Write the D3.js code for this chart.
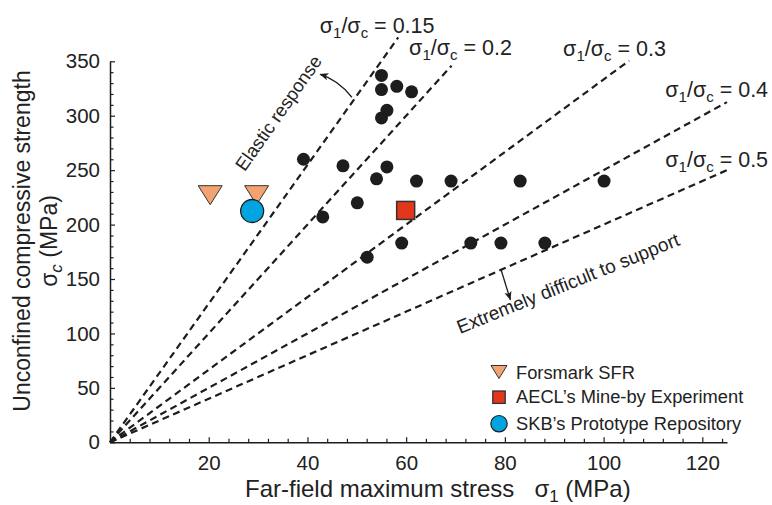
<!DOCTYPE html>
<html>
<head>
<meta charset="utf-8">
<script src="https://cdn.jsdelivr.net/npm/d3@7"></script>
<style>
body { margin: 0; background: #fff; }
svg text { font-family: "Liberation Sans", Arial, Helvetica, sans-serif; fill: #222; }
</style>
</head>
<body>
<svg id="chart" width="772" height="505"></svg>
<script>
// field data: sigma1 (MPa) vs sigma_c (MPa)
var sites = [
	[55.0, 337], [55.0, 324], [58.1, 327], [61.1, 322], [56.1, 305], [55.0, 298],
	[39.2, 260], [47.2, 254], [56.1, 253], [54.0, 242], [62.1, 240], [69.1, 240],
	[83.1, 240], [100.1, 240], [50.1, 220], [43.1, 207], [59.1, 183], [73.1, 183],
	[79.2, 183], [88.1, 183], [52.1, 170]
];
var forsmark = [[20.3, 227], [29.7, 227]];
var aecl = [[59.9, 213]];
var skb = [[28.8, 212.5]];

// sigma1/sigma_c lines (slope as drawn) and where each one stops (sigma1)
var ratioLabels = ["0.15", "0.2", "0.3", "0.4", "0.5"];
var ratios = [0.157, 0.2, 0.3, 0.4, 0.5];
var ratioEnds = [58.4, 69.2, 105.2, 125, 125];
var ratioLabelPos = [[42.5, 376], [60.6, 356], [91.8, 355], [112.5, 317], [112.5, 253]];

var xMajor = [20, 40, 60, 80, 100, 120];
var yMajor = [0, 50, 100, 150, 200, 250, 300, 350];
var legendLabels = ["Forsmark SFR", "AECL\u2019s Mine-by Experiment", "SKB\u2019s Prototype Repository"];

var svg = d3.select("#chart");
var x = d3.scaleLinear().domain([0, 125]).range([110, 727]);
var y = d3.scaleLinear().domain([0, 350]).range([442.3, 61.3]);
var ink = "#1d1d1d";

// axes, ticks point inward
svg.append("g").attr("transform", "translate(0," + y(0) + ")")
	.call(d3.axisBottom(x).tickValues(xMajor).tickSizeInner(-5).tickSizeOuter(0).tickPadding(13));
svg.append("g").attr("transform", "translate(0," + y(0) + ")")
	.call(d3.axisBottom(x).tickValues(d3.range(4, 125, 4).filter(function(d) { return d % 20 != 0; }))
		.tickSizeInner(-3.5).tickSizeOuter(0).tickFormat(""))
	.select(".domain").remove();
svg.append("g").attr("transform", "translate(" + x(0) + ",0)")
	.call(d3.axisLeft(y).tickValues(yMajor).tickSizeInner(-5).tickSizeOuter(0).tickPadding(10));
svg.append("g").attr("transform", "translate(" + x(0) + ",0)")
	.call(d3.axisLeft(y).tickValues(d3.range(10, 350, 10).filter(function(d) { return d % 50 != 0; }))
		.tickSizeInner(-3.5).tickSizeOuter(0).tickFormat(""))
	.select(".domain").remove();
svg.selectAll(".domain").attr("stroke", ink).attr("stroke-width", 1.5);
svg.selectAll(".tick line").attr("stroke", ink).attr("stroke-width", 1.2);
svg.selectAll(".tick text").style("font-size", "20.5px").attr("fill", "#222");

// ratio lines
svg.selectAll("line.ratio")
	.data(ratios)
	.enter().append("line")
	.attr("class", "ratio")
	.attr("x1", x(0))
	.attr("y1", y(0))
	.attr("x2", function(d, i) { return x(ratioEnds[i]); })
	.attr("y2", function(d, i) { return y(ratioEnds[i] / d); })
	.attr("stroke", ink)
	.attr("stroke-width", 2.2)
	.attr("stroke-dasharray", "7,4.5");

// ratio labels: sigma1/sigma_c = r
ratioLabels.forEach(function(lab, i) {
	var t = svg.append("text")
		.attr("x", x(ratioLabelPos[i][0]))
		.attr("y", y(ratioLabelPos[i][1]))
		.style("font-size", "21.5px");
	t.append("tspan").text("\u03c3");
	t.append("tspan").text("1").style("font-size", "15px").attr("dy", 5);
	t.append("tspan").text("/\u03c3").attr("dy", -5);
	t.append("tspan").text("c").style("font-size", "15px").attr("dy", 5);
	t.append("tspan").text(" = " + lab).attr("dy", -5);
});

// data points
svg.append("g").selectAll("circle")
	.data(sites)
	.enter().append("circle")
	.attr("cx", function(d) { return x(d[0]); })
	.attr("cy", function(d) { return y(d[1]); })
	.attr("r", 6.5)
	.attr("fill", ink);

function tri(w, h) {
	return "M" + (-w/2) + "," + (-h/2) + "L" + (w/2) + "," + (-h/2) + "L0," + (h/2) + "Z";
}
var triFill = "#f3a372", sqFill = "#e2361d", cirFill = "#00a5e0", edge = "#333";

svg.append("g").selectAll("path")
	.data(forsmark)
	.enter().append("path")
	.attr("d", tri(24, 19))
	.attr("transform", function(d) { return "translate(" + x(d[0]) + "," + y(d[1]) + ")"; })
	.attr("fill", triFill).attr("stroke", edge).attr("stroke-width", 1);

svg.append("g").selectAll("circle")
	.data(skb)
	.enter().append("circle")
	.attr("cx", function(d) { return x(d[0]); })
	.attr("cy", function(d) { return y(d[1]); })
	.attr("r", 11.5)
	.attr("fill", cirFill).attr("stroke", ink).attr("stroke-width", 1.3);

svg.append("g").selectAll("rect")
	.data(aecl)
	.enter().append("rect")
	.attr("x", function(d) { return x(d[0]) - 9; })
	.attr("y", function(d) { return y(d[1]) - 9; })
	.attr("width", 18).attr("height", 18)
	.attr("fill", sqFill).attr("stroke", edge).attr("stroke-width", 1.5);

// annotations
svg.append("defs").append("marker")
	.attr("id", "head").attr("viewBox", "0 0 10 10")
	.attr("refX", 9).attr("refY", 5)
	.attr("markerWidth", 9).attr("markerHeight", 9)
	.attr("markerUnits", "userSpaceOnUse")
	.attr("orient", "auto")
	.append("path").attr("d", "M0,1L10,5L0,9L2.5,5Z").attr("fill", ink);

svg.append("path")
	.attr("d", "M" + x(49.0) + "," + y(317) + "Q" + x(46.2) + "," + y(333) + " " + x(42.6) + "," + y(338))
	.attr("fill", "none").attr("stroke", ink).attr("stroke-width", 1.3)
	.attr("marker-end", "url(#head)");
svg.append("text")
	.attr("transform", "translate(" + x(27.3) + "," + y(248) + ") rotate(-55)")
	.style("font-size", "18.5px")
	.text("Elastic response");

svg.append("line")
	.attr("x1", x(79.2)).attr("y1", y(159))
	.attr("x2", x(81.1)).attr("y2", y(131))
	.attr("stroke", ink).attr("stroke-width", 1.3)
	.attr("marker-end", "url(#head)");
svg.append("text")
	.attr("transform", "translate(" + x(70.9) + "," + y(99.5) + ") rotate(-22)")
	.style("font-size", "19px")
	.text("Extremely difficult to support");

// legend
var legend = svg.append("g").attr("transform", "translate(499,0)");
legend.append("path").attr("d", tri(16, 13)).attr("transform", "translate(0,372)")
	.attr("fill", triFill).attr("stroke", edge).attr("stroke-width", 1);
legend.append("rect").attr("x", -6.2).attr("y", 391).attr("width", 12.4).attr("height", 12.4)
	.attr("fill", sqFill).attr("stroke", edge).attr("stroke-width", 1.3);
legend.append("circle").attr("cx", 0).attr("cy", 423.7).attr("r", 8.2)
	.attr("fill", cirFill).attr("stroke", ink).attr("stroke-width", 1.2);
legend.selectAll("text")
	.data(legendLabels)
	.enter().append("text")
	.attr("x", 17)
	.attr("y", function(d, i) { return [378.5, 403, 430][i]; })
	.style("font-size", "18.3px")
	.text(function(d) { return d; });

// axis titles
var xt = svg.append("text").attr("x", 245).attr("y", 497).style("font-size", "24px");
xt.append("tspan").text("Far-field maximum stress");
xt.append("tspan").text("\u03c3").attr("dx", 20);
xt.append("tspan").text("1").style("font-size", "17px").attr("dy", 5);
xt.append("tspan").text(" (MPa)").attr("dy", -5);

var yt = svg.append("g").attr("transform", "translate(0,241) rotate(-90)");
yt.append("text").attr("x", 0).attr("y", 30).attr("text-anchor", "middle")
	.style("font-size", "23px").text("Unconfined compressive strength");
var yt2 = yt.append("text").attr("x", 0).attr("y", 57).attr("text-anchor", "middle")
	.style("font-size", "23px");
yt2.append("tspan").text("\u03c3");
yt2.append("tspan").text("c").style("font-size", "17px").style("font-style", "italic").attr("dy", 5);
yt2.append("tspan").text(" (MPa)").attr("dy", -5);
</script>
</body>
</html>
